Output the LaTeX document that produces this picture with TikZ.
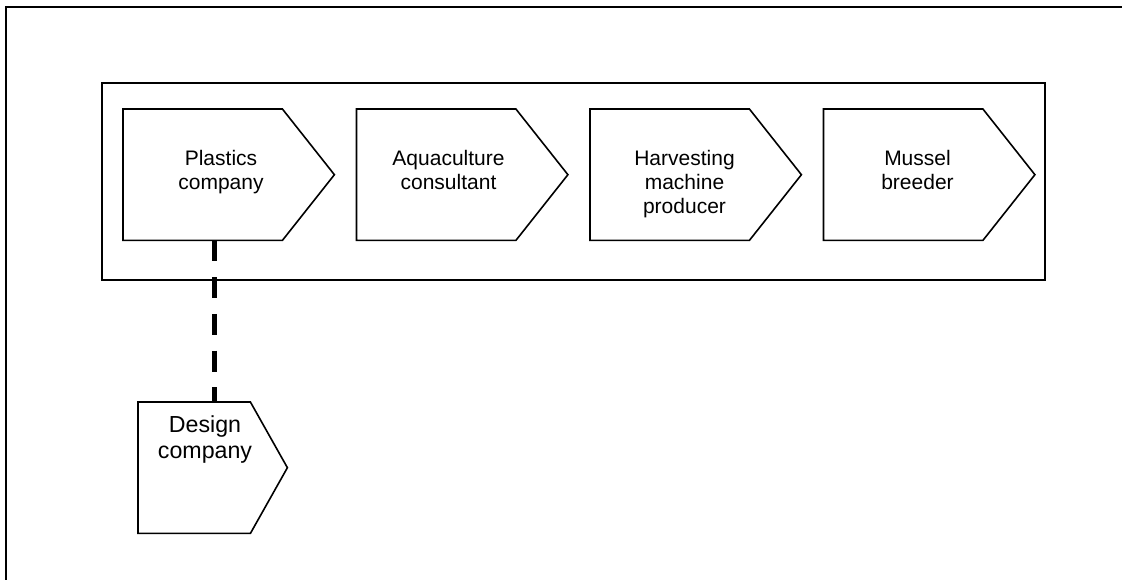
\documentclass[tikz,border=0pt]{standalone}
\usepackage{fontspec}
\setmainfont{Liberation Sans}
\begin{document}
\begin{tikzpicture}[x=1pt,y=-1pt,
  frameline/.style={draw=black,line width=2pt},
  stepbox/.style={rectangle,draw=none,inner sep=0pt,anchor=north west,
    minimum width=159pt,minimum height=131pt},
  designbox/.style={rectangle,draw=none,inner sep=0pt,anchor=north west,
    minimum width=112pt,minimum height=131pt},
  outline/.style={draw=black,line width=1.6pt,line join=miter,fill=white},
  steptext/.style={anchor=north,inner sep=0pt,align=center,
    font=\fontsize{21}{24}\selectfont},
  designtext/.style={anchor=north,inner sep=0pt,align=center,
    font=\fontsize{23.2}{26.4}\selectfont},
  dashline/.style={draw=black,line width=5pt,dash pattern=on 21pt off 15.7pt}
]
\useasboundingbox (0,0) rectangle (1122,580);
\clip (0,0) rectangle (1122,580);

% page frame (runs off the right and bottom edges)
\draw[frameline] (6,7.5) rectangle (1140,600);

% value-chain container
\node[rectangle,draw=black,line width=2pt,inner sep=0pt,anchor=north west,
  minimum width=943pt,minimum height=197pt] (chain) at (101,82) {};

% rectangular bodies of the chevrons
\node[stepbox] (plastics)   at (123,109) {};
\node[stepbox] (aqua)       at (356.5,109) {};
\node[stepbox] (harvest)    at (590,109) {};
\node[stepbox] (mussel)     at (823.5,109) {};
\node[designbox] (design)   at (138,402) {};

% chevron outlines
\foreach \n in {plastics,aqua,harvest,mussel}{
  \draw[outline] (\n.north west) -- (\n.north east) -- ([xshift=52pt]\n.east)
    -- (\n.south east) -- (\n.south west) -- cycle;
}
\draw[outline] (design.north west) -- (design.north east) -- ([xshift=37pt]design.east)
  -- (design.south east) -- (design.south west) -- cycle;

% labels
\node[steptext] (plasticsT) at (221,150.3) {Plastics\\company};
\node[steptext] (aquaT)     at (448.5,150.3) {Aquaculture\\consultant};
\node[steptext] (harvestT)  at (684.5,150.3) {Harvesting\\machine\\producer};
\node[steptext] (musselT)   at (917.5,150.3) {Mussel\\breeder};
\node[designtext] (designT) at (205,415) {Design\\company};

% dashed link from the plastics company to the design company
\coordinate (link) at (214,0);
\draw[dashline] (plastics.south -| link) -- (design.north -| link);
\end{tikzpicture}
\end{document}
